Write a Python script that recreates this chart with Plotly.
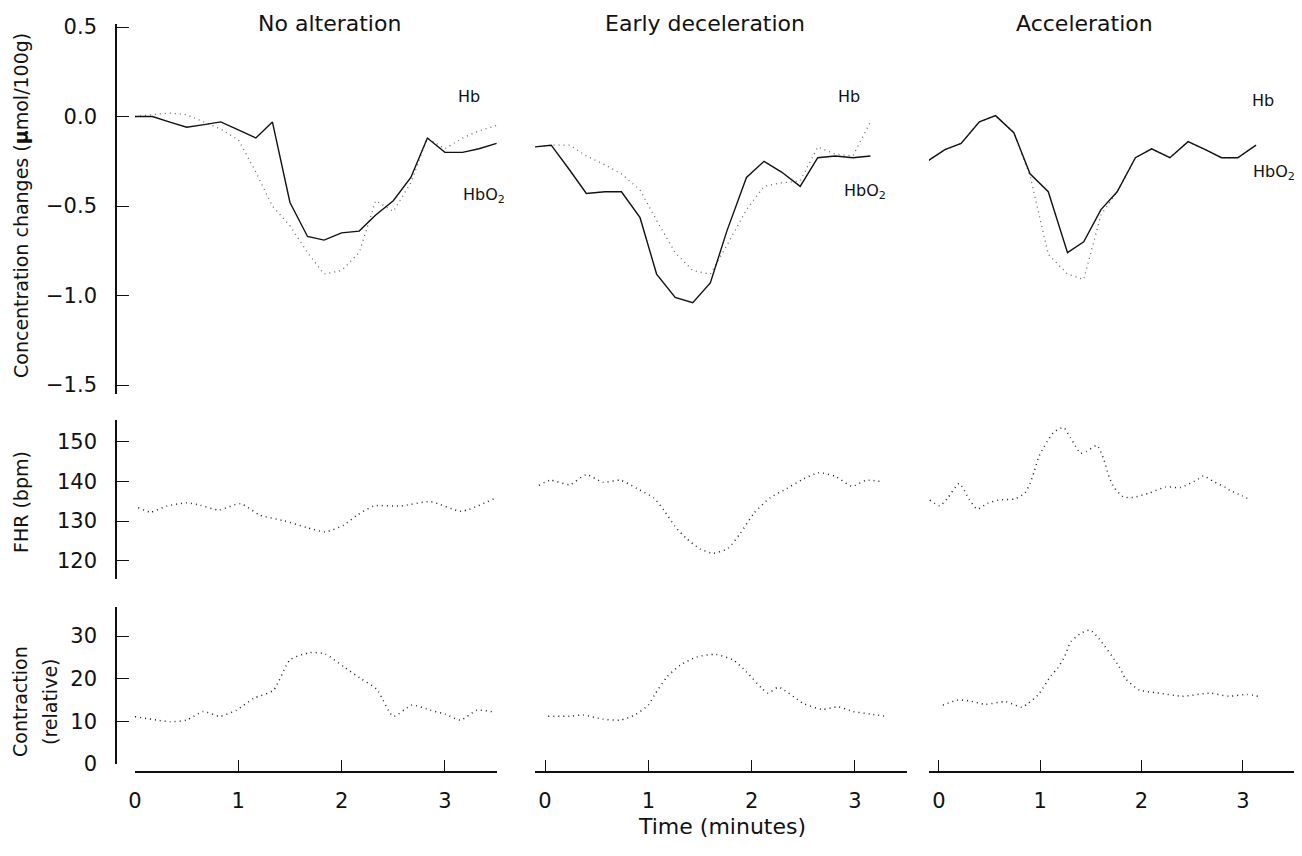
import plotly.graph_objects as go

W, H = 1302, 856
PAGE_PAD = 8  # browser body margin around the plot div
FIG_W, FIG_H = W - 2 * PAGE_PAD, H - 2 * PAGE_PAD

# ---------------- data ----------------
panel_titles = ["No alteration", "Early deceleration", "Acceleration"]

# Concentration changes (umol/100g)
t_conc_1 = [0.0, 0.17, 0.33, 0.5, 0.67, 0.83, 1.0, 1.17, 1.33, 1.5, 1.67, 1.83,
            2.0, 2.17, 2.33, 2.5, 2.67, 2.83, 3.0, 3.17, 3.33, 3.5]
hbo2_1 = [0.0, 0.0, -0.03, -0.06, -0.045, -0.03, -0.075, -0.12, -0.03, -0.48, -0.67, -0.69,
          -0.65, -0.64, -0.55, -0.47, -0.34, -0.12, -0.20, -0.20, -0.18, -0.15]
hb_1 = [0.0, 0.01, 0.02, 0.01, -0.03, -0.07, -0.13, -0.31, -0.50, -0.61, -0.76, -0.88,
        -0.86, -0.76, -0.47, -0.53, -0.37, -0.12, -0.18, -0.12, -0.08, -0.05]

t_conc_2 = [-0.11, 0.06, 0.24, 0.40, 0.58, 0.74, 0.92, 1.08, 1.26, 1.43, 1.60, 1.76,
            1.95, 2.12, 2.29, 2.47, 2.64, 2.81, 2.98, 3.15]
hbo2_2 = [-0.17, -0.16, -0.30, -0.43, -0.42, -0.42, -0.565, -0.88, -1.01, -1.04, -0.93, -0.64,
          -0.34, -0.25, -0.31, -0.39, -0.23, -0.22, -0.23, -0.22]
hb_2 = [-0.17, -0.16, -0.16, -0.22, -0.27, -0.32, -0.41, -0.58, -0.76, -0.86, -0.88, -0.72,
        -0.52, -0.39, -0.37, -0.36, -0.17, -0.21, -0.22, -0.03]

t_conc_3 = [-0.10, 0.06, 0.22, 0.40, 0.56, 0.74, 0.90, 1.08, 1.27, 1.43, 1.60, 1.76,
            1.94, 2.10, 2.28, 2.46, 2.63, 2.79, 2.95, 3.13]
hbo2_3 = [-0.245, -0.185, -0.15, -0.03, 0.005, -0.09, -0.32, -0.42, -0.76, -0.70, -0.52, -0.42,
          -0.23, -0.18, -0.23, -0.14, -0.185, -0.23, -0.23, -0.16]
hb_3 = [-0.245, -0.185, -0.15, -0.03, 0.005, -0.09, -0.33, -0.77, -0.88, -0.91, -0.55, -0.42,
        -0.23, -0.18, -0.23, -0.14, -0.185, -0.23, -0.23, -0.16]

# Fetal heart rate (bpm)
t_fhr_1 = [0.03, 0.15, 0.31, 0.50, 0.63, 0.81, 1.02, 1.21, 1.44, 1.66, 1.84, 2.02,
           2.15, 2.31, 2.57, 2.86, 3.16, 3.47]
fhr_1 = [133.4, 132.3, 133.8, 134.6, 134.0, 132.8, 134.4, 131.5, 130.1, 128.4, 127.3, 129.0,
         131.5, 133.8, 133.8, 134.9, 132.5, 135.6]

t_fhr_2 = [-0.06, 0.05, 0.24, 0.40, 0.56, 0.73, 0.89, 1.05, 1.15, 1.26, 1.37, 1.50,
           1.63, 1.77, 1.89, 2.02, 2.18, 2.34, 2.50, 2.65, 2.81, 2.97, 3.11, 3.27]
fhr_2 = [139.0, 140.3, 139.2, 141.7, 139.8, 140.3, 138.2, 135.9, 132.8, 128.6, 125.6, 123.0,
         121.9, 123.1, 126.9, 131.9, 135.9, 138.2, 140.6, 142.2, 141.3, 138.8, 140.3, 139.9]

t_fhr_3 = [-0.09, 0.01, 0.09, 0.20, 0.30, 0.38, 0.48, 0.59, 0.75, 0.85, 0.90, 0.94,
           0.99, 1.13, 1.23, 1.30, 1.40, 1.46, 1.56, 1.63, 1.68, 1.73, 1.82, 1.92,
           2.08, 2.24, 2.39, 2.56, 2.61, 2.71, 2.83, 2.87, 2.99, 3.08]
fhr_3 = [135.3, 133.9, 135.9, 139.5, 135.5, 133.0, 134.5, 135.3, 135.6, 137.1, 139.5, 142.4,
         146.4, 152.3, 153.6, 151.0, 147.1, 147.6, 149.1, 145.4, 141.2, 138.5, 136.1, 136.0,
         137.1, 138.6, 138.5, 140.6, 141.4, 140.0, 138.5, 137.8, 136.4, 135.3]

# Contraction (relative)
t_con_1 = [0.0, 0.21, 0.34, 0.50, 0.66, 0.82, 0.98, 1.15, 1.34, 1.50, 1.69, 1.84,
           2.02, 2.18, 2.34, 2.50, 2.68, 2.86, 3.00, 3.15, 3.31, 3.47]
con_1 = [11.1, 10.3, 9.9, 10.3, 12.3, 11.2, 12.6, 15.4, 17.3, 24.4, 26.1, 25.8,
         22.8, 20.1, 17.5, 11.2, 13.8, 12.6, 11.7, 10.3, 12.6, 12.2]

t_con_2 = [0.03, 0.24, 0.37, 0.56, 0.73, 0.87, 1.00, 1.06, 1.18, 1.31, 1.47, 1.65,
           1.82, 1.95, 2.10, 2.16, 2.26, 2.50, 2.68, 2.84, 2.98, 3.15, 3.32]
con_2 = [11.2, 11.2, 11.5, 10.5, 10.3, 11.5, 13.8, 16.2, 20.4, 23.2, 25.1, 25.7,
         24.4, 21.6, 17.7, 16.6, 18.0, 14.2, 12.8, 13.4, 12.3, 11.7, 11.1]

t_con_3 = [0.04, 0.19, 0.30, 0.46, 0.66, 0.82, 0.88, 0.98, 1.11, 1.17, 1.24, 1.30,
           1.40, 1.49, 1.58, 1.78, 1.84, 1.98, 2.15, 2.40, 2.68, 2.86, 3.05, 3.16]
con_3 = [13.8, 15.0, 14.8, 14.0, 14.6, 13.3, 14.2, 16.2, 20.8, 22.4, 25.1, 28.6,
         30.6, 31.4, 29.4, 22.8, 20.1, 17.3, 16.7, 15.9, 16.6, 15.9, 16.3, 15.8]

conc_ticks = [-1.5, -1.0, -0.5, 0.0, 0.5]
fhr_ticks = [120, 130, 140, 150]
con_ticks = [0, 10, 20, 30]
time_ticks = [0, 1, 2, 3]

# ---------------- layout geometry (screen pixels) ----------------
FONT = "DejaVu Sans"
col_px = [(135, 497, 0.0, 3.504), (535, 907, -0.097, 3.504), (929, 1300, -0.097, 3.505)]
row_px = [(24, 394, -1.55, 0.517), (420, 579, 115.4, 155.5), (607, 764, 0.0, 36.8)]
yaxis_x_px = 116
xaxis_y_px = 772


def px_x(p):
    return (p - PAGE_PAD) / FIG_W


def px_y(p):
    return 1 - (p - PAGE_PAD) / FIG_H


fig = go.Figure()

conc = [(t_conc_1, hbo2_1, hb_1), (t_conc_2, hbo2_2, hb_2), (t_conc_3, hbo2_3, hb_3)]
fhr = [(t_fhr_1, fhr_1), (t_fhr_2, fhr_2), (t_fhr_3, fhr_3)]
con = [(t_con_1, con_1), (t_con_2, con_2), (t_con_3, con_3)]


def ax_id(r, c):
    return r * 3 + c + 1


for c in range(3):
    n = ax_id(0, c)
    t, hbo2, hb = conc[c]
    fig.add_trace(go.Scatter(x=t, y=hb, mode="lines", name="Hb",
                             line=dict(color="#666666", width=1.3, dash="1px,4px"),
                             xaxis=f"x{n}", yaxis=f"y{n}", showlegend=False))
    fig.add_trace(go.Scatter(x=t, y=hbo2, mode="lines", name="HbO2",
                             line=dict(color="#111111", width=1.4),
                             xaxis=f"x{n}", yaxis=f"y{n}", showlegend=False))
    n = ax_id(1, c)
    t, v = fhr[c]
    fig.add_trace(go.Scatter(x=t, y=v, mode="lines", name="FHR",
                             line=dict(color="#222222", width=1.5, dash="1px,4px", shape="spline", smoothing=0.6),
                             xaxis=f"x{n}", yaxis=f"y{n}", showlegend=False))
    n = ax_id(2, c)
    t, v = con[c]
    fig.add_trace(go.Scatter(x=t, y=v, mode="lines", name="Contraction",
                             line=dict(color="#222222", width=1.5, dash="1px,4px", shape="spline", smoothing=0.6),
                             xaxis=f"x{n}", yaxis=f"y{n}", showlegend=False))

row_ticks = [conc_ticks, fhr_ticks, con_ticks]
row_fmt = [".1f", "d", "d"]

layout = {}
for r in range(3):
    y0p, y1p, ylo, yhi = row_px[r]
    for c in range(3):
        n = ax_id(r, c)
        x0p, x1p, xlo, xhi = col_px[c]
        xa = dict(domain=[px_x(x0p), min(1.0, px_x(x1p))], range=[xlo, xhi], automargin=False,
                  showgrid=False, zeroline=False, fixedrange=True)
        if r == 2:
            xa.update(anchor="free", position=px_y(xaxis_y_px), showline=True,
                      linecolor="#111111", linewidth=1.6, ticks="inside", ticklen=11,
                      tickwidth=1.4, tickcolor="#111111", tickvals=time_ticks,
                      ticktext=[str(v) for v in time_ticks],
                      tickfont=dict(family=FONT, size=21, color="#111111"),
                      ticklabelstandoff=10)
        else:
            xa.update(anchor=f"y{n}", visible=False)
        ya = dict(domain=[px_y(y1p), px_y(y0p)], range=[ylo, yhi], automargin=False,
                  showgrid=False, zeroline=False, fixedrange=True)
        if c == 0:
            ya.update(anchor="free", position=px_x(yaxis_x_px), showline=True,
                      linecolor="#111111", linewidth=1.6, ticks="inside", ticklen=12,
                      tickwidth=1.4, tickcolor="#111111", tickvals=row_ticks[r],
                      tickformat=row_fmt[r],
                      tickfont=dict(family=FONT, size=21, color="#111111"),
                      ticklabelstandoff=14)
        else:
            ya.update(anchor=f"x{n}", visible=False)
        layout[f"xaxis{n}"] = xa
        layout[f"yaxis{n}"] = ya

annotations = []


def add_text(text, x, y, size, xanchor="center", angle=0):
    annotations.append(dict(text=text, x=px_x(x), y=px_y(y), xref="paper", yref="paper",
                            xanchor=xanchor, yanchor="middle", showarrow=False,
                            textangle=angle,
                            font=dict(family=FONT, size=size, color="#111111")))


title_pos = [(329, 23), (705, 23), (1084, 23)]
for (x, y), txt in zip(title_pos, panel_titles):
    add_text(txt, x, y, 22)

hb_pos = [(469, 97), (849, 97), (1263, 100)]
hbo2_pos = [(461, 195), (842, 191), (1251, 173)]
for (x, y) in hb_pos:
    add_text("Hb", x, y, 16)
for (x, y) in hbo2_pos:
    add_text("HbO<sub>2</sub>", x, y, 16, xanchor="left")

add_text("Concentration changes (<b>μ</b>mol/100g)", 21, 206, 19, angle=-90)
add_text("FHR (bpm)", 21, 502, 19, angle=-90)
add_text("Contraction", 20, 702, 19, angle=-90)
add_text("(relative)", 50, 702, 19, angle=-90)
add_text("Time (minutes)", 722, 826, 22)

fig.update_layout(**layout)
fig.update_layout(width=FIG_W, height=FIG_H, margin=dict(l=0, r=0, t=0, b=0),
                  paper_bgcolor="white", plot_bgcolor="white",
                  annotations=annotations, showlegend=False)

fig.write_html("out.html")
